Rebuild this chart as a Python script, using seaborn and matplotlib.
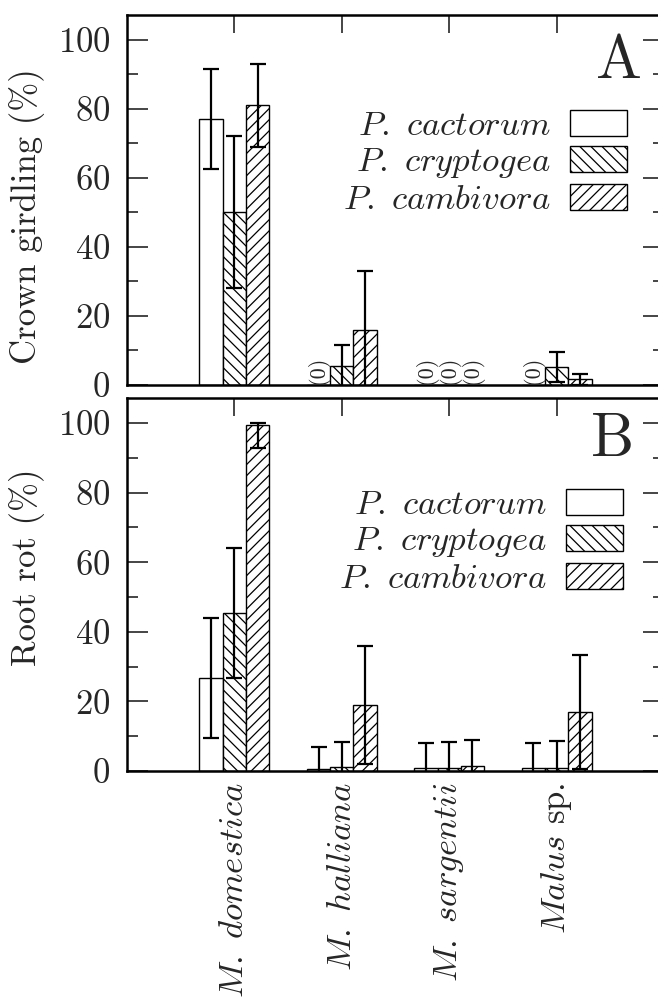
import numpy as np
import pandas as pd
import seaborn as sns
import matplotlib.pyplot as plt
from matplotlib.ticker import MultipleLocator

# hosts on x axis, isolates as hue
hosts = ["M. domestica", "M. halliana", "M. sargentii", "Malus sp."]
host_labels = [r"$M.\ domestica$", r"$M.\ halliana$", r"$M.\ sargentii$", r"$Malus$ sp."]
species = ["P. cactorum", "P. cryptogea", "P. cambivora"]
species_labels = [r"$P.\ cactorum$", r"$P.\ cryptogea$", r"$P.\ cambivora$"]
hatches = ["", "\\\\\\", "///"]

# A - crown girdling (%)
crown_cactorum = [77, 0, 0, 0]
crown_cryptogea = [50, 5.5, 0, 5.3]
crown_cambivora = [81, 16, 0, 1.6]
crown_err_cactorum = [14.5, 0, 0, 0]
crown_err_cryptogea = [22, 6, 0, 4.3]
crown_err_cambivora = [12, 17, 0, 1.6]

# B - root rot (%)
root_cactorum = [26.7, 0.5, 0.8, 0.8]
root_cryptogea = [45.5, 1.2, 1.0, 0.8]
root_cambivora = [99.3, 19, 1.3, 17]
root_err_cactorum = [17.2, 6.4, 7.2, 7.2]
root_err_cryptogea = [18.7, 7.1, 7.3, 7.8]
root_err_cambivora = [6.5, 17, 7.6, 16.3]

sns.set_style("ticks")
plt.rcParams["font.family"] = ["cmr10", "DejaVu Serif"]
plt.rcParams["mathtext.fontset"] = "cm"
plt.rcParams["axes.formatter.use_mathtext"] = True
plt.rcParams["axes.unicode_minus"] = False
plt.rcParams["hatch.linewidth"] = 0.9
plt.rcParams["axes.linewidth"] = 1.8
plt.rcParams["axes.edgecolor"] = "black"

FS = 25


def panel(ax, vals, errs, ylabel, letter, label_y, letter_pos, legend_anchor, zero_marks):
    df = pd.DataFrame({
        "host": np.tile(hosts, 3),
        "species": np.repeat(species, len(hosts)),
        "value": np.concatenate(vals),
    })
    sns.barplot(data=df, x="host", y="value", hue="species", order=hosts,
                hue_order=species, palette=["white"] * 3, saturation=1,
                width=0.65, errorbar=None, edgecolor="black", linewidth=1.0,
                legend=False, ax=ax)
    bars = list(ax.containers)
    for cont, h, v, e in zip(bars, hatches, vals, errs):
        xs, ys, lo, hi = [], [], [], []
        for p, val, err in zip(cont.patches, v, e):
            p.set_hatch(h)
            x = p.get_x() + p.get_width() / 2
            if err > 0:
                xs.append(x)
                ys.append(val)
                lo.append(err)
                hi.append(min(err, 100 - val))
            elif zero_marks and val == 0:
                ax.text(x, 0.2, "(0)", rotation=90, ha="center", va="bottom",
                        fontsize=16)
        if xs:
            ax.errorbar(xs, ys, yerr=[lo, hi], fmt="none", ecolor="black",
                        elinewidth=1.6, capsize=5.5, capthick=1.6)

    ax.legend(bars, species_labels, loc="center right", markerfirst=False,
              frameon=False, fontsize=FS, borderpad=0, borderaxespad=0,
              handlelength=1.64, handleheight=0.78, handletextpad=0.55,
              labelspacing=0.1, bbox_to_anchor=legend_anchor,
              bbox_transform=ax.figure.transFigure)

    ax.set_xlim(-1, 4)
    ax.set_ylim(0, 107.2)
    ax.set_yticks(range(0, 101, 20))
    ax.yaxis.set_minor_locator(MultipleLocator(10))
    ax.tick_params(axis="y", which="both", direction="in", left=True,
                   right=True, width=1.2, labelsize=FS)
    ax.tick_params(axis="y", which="major", length=15, pad=12)
    ax.tick_params(axis="y", which="minor", length=8)
    ax.tick_params(axis="x", direction="in", top=True, bottom=False,
                   length=13, width=1.2, labelsize=FS, pad=8)
    for s in ax.spines.values():
        s.set_visible(True)
    ax.set_xlabel("")
    ax.set_ylabel(ylabel, fontsize=FS)
    ax.yaxis.set_label_coords(-0.153, label_y)
    ax.text(letter_pos[0], letter_pos[1], letter, transform=ax.transAxes,
            ha="right", va="top", fontsize=44)


fig = plt.figure(figsize=(6.58, 10.06), dpi=100)
ax1 = fig.add_axes([127 / 658, 1 - 385 / 1006, 537 / 658, 370 / 1006])
ax2 = fig.add_axes([127 / 658, 1 - 771 / 1006, 537 / 658, 373 / 1006])

panel(ax1,
      [crown_cactorum, crown_cryptogea, crown_cambivora],
      [crown_err_cactorum, crown_err_cryptogea, crown_err_cambivora],
      "Crown girdling (%)", "A", 0.457, (0.958, 0.946),
      (627 / 658, 1 - 163 / 1006), True)
ax1.tick_params(axis="x", labelbottom=False)

panel(ax2,
      [root_cactorum, root_cryptogea, root_cambivora],
      [root_err_cactorum, root_err_cryptogea, root_err_cambivora],
      "Root rot (%)", "B", 0.547, (0.945, 0.962),
      (623 / 658, 1 - 542 / 1006), False)
ax2.set_xticks(range(len(hosts)))
ax2.set_xticklabels(host_labels, rotation=90, va="top", ha="center")

fig.savefig("out.png", dpi=100)
